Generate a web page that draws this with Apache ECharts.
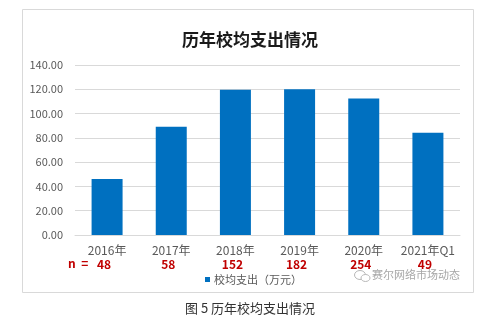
<!DOCTYPE html>
<html>
<head>
<meta charset="utf-8">
<script src="https://cdn.jsdelivr.net/npm/echarts@6/dist/echarts.min.js"></script>
<style>
  html, body { margin: 0; padding: 0; background: #fff; }
  #chart { width: 491px; height: 323px; }
</style>
</head>
<body>
<div id="chart"></div>
<script>
// Average spending per school by year (10k yuan) and sample sizes
const categories = ['2016年', '2017年', '2018年', '2019年', '2020年', '2021年Q1'];
const avgSpend = [46.2, 89.1, 119.7, 120.1, 112.5, 84.2];
const sampleSizes = [48, 58, 152, 182, 254, 49];
const seriesName = '校均支出（万元）';

const FONT = '"Noto Sans CJK SC", "Noto Sans", sans-serif';

const chart = echarts.init(document.getElementById('chart'));

chart.setOption({
  backgroundColor: '#fff',
  animation: false,
  textStyle: { fontFamily: FONT },
  title: {
    text: '历年校均支出情况',
    left: 177,
    top: 26,
    textStyle: { fontSize: 17, fontWeight: 'bold', color: '#1a1a1a', fontFamily: FONT }
  },
  legend: {
    data: [seriesName],
    left: 200,
    top: 269,
    icon: 'rect',
    itemWidth: 5,
    itemHeight: 5,
    itemGap: 4,
    textStyle: { fontSize: 11, color: '#595959', fontFamily: FONT, padding: [0, 0, 0, -1] }
  },
  grid: { left: 75, right: 31, top: 65, bottom: 88, containLabel: false },
  xAxis: {
    type: 'category',
    data: categories,
    axisLine: { lineStyle: { color: '#d9d9d9' } },
    axisTick: { show: false },
    axisLabel: {
      interval: 0,
      margin: 8,
      formatter: function (v, i) {
        return '{c|' + v + '}\n{n|' + sampleSizes[i] + '}';
      },
      rich: {
        c: { fontSize: 12, color: '#595959', fontFamily: FONT, lineHeight: 14 },
        n: { fontSize: 12, color: '#c00000', fontWeight: 'bold', fontFamily: FONT, lineHeight: 14, padding: [0, 6, 0, 0] }
      }
    }
  },
  yAxis: {
    type: 'value',
    min: 0,
    max: 140,
    interval: 20,
    axisLine: { show: false },
    axisTick: { show: false },
    splitLine: { lineStyle: { color: '#d9d9d9' } },
    axisLabel: {
      margin: 12,
      fontSize: 11,
      color: '#595959',
      fontFamily: FONT,
      formatter: function (v) { return v.toFixed(2); }
    }
  },
  series: [{
    name: seriesName,
    type: 'bar',
    data: avgSpend,
    barWidth: 31,
    itemStyle: { color: '#0070c0' }
  }],
  graphic: [
    {
      type: 'rect',
      shape: { x: 22.5, y: 9.5, width: 451, height: 283 },
      style: { fill: 'none', stroke: '#d9d9d9', lineWidth: 1 },
      silent: true
    },
    {
      type: 'text',
      x: 68,
      y: 257,
      style: { text: 'n  =', fill: '#c00000', font: 'bold 12px ' + FONT }
    },
    {
      type: 'group',
      x: 353,
      y: 269,
      children: [
        { type: 'ellipse', shape: { cx: 7, cy: 6, rx: 5.5, ry: 4.5 }, style: { fill: 'none', stroke: '#b8b8b8', lineWidth: 1 } },
        { type: 'ellipse', shape: { cx: 12.5, cy: 9, rx: 4.5, ry: 3.5 }, style: { fill: '#fff', stroke: '#b8b8b8', lineWidth: 1 } },
        { type: 'text', x: 19, y: 0.5, style: { text: '赛尔网络市场动态', fill: '#a6a6a6', font: '11px ' + FONT } }
      ]
    },
    {
      type: 'text',
      left: 185,
      top: 302,
      style: { text: '图 5 历年校均支出情况', fill: '#333', font: '13px ' + FONT }
    }
  ]
});
</script>
</body>
</html>
